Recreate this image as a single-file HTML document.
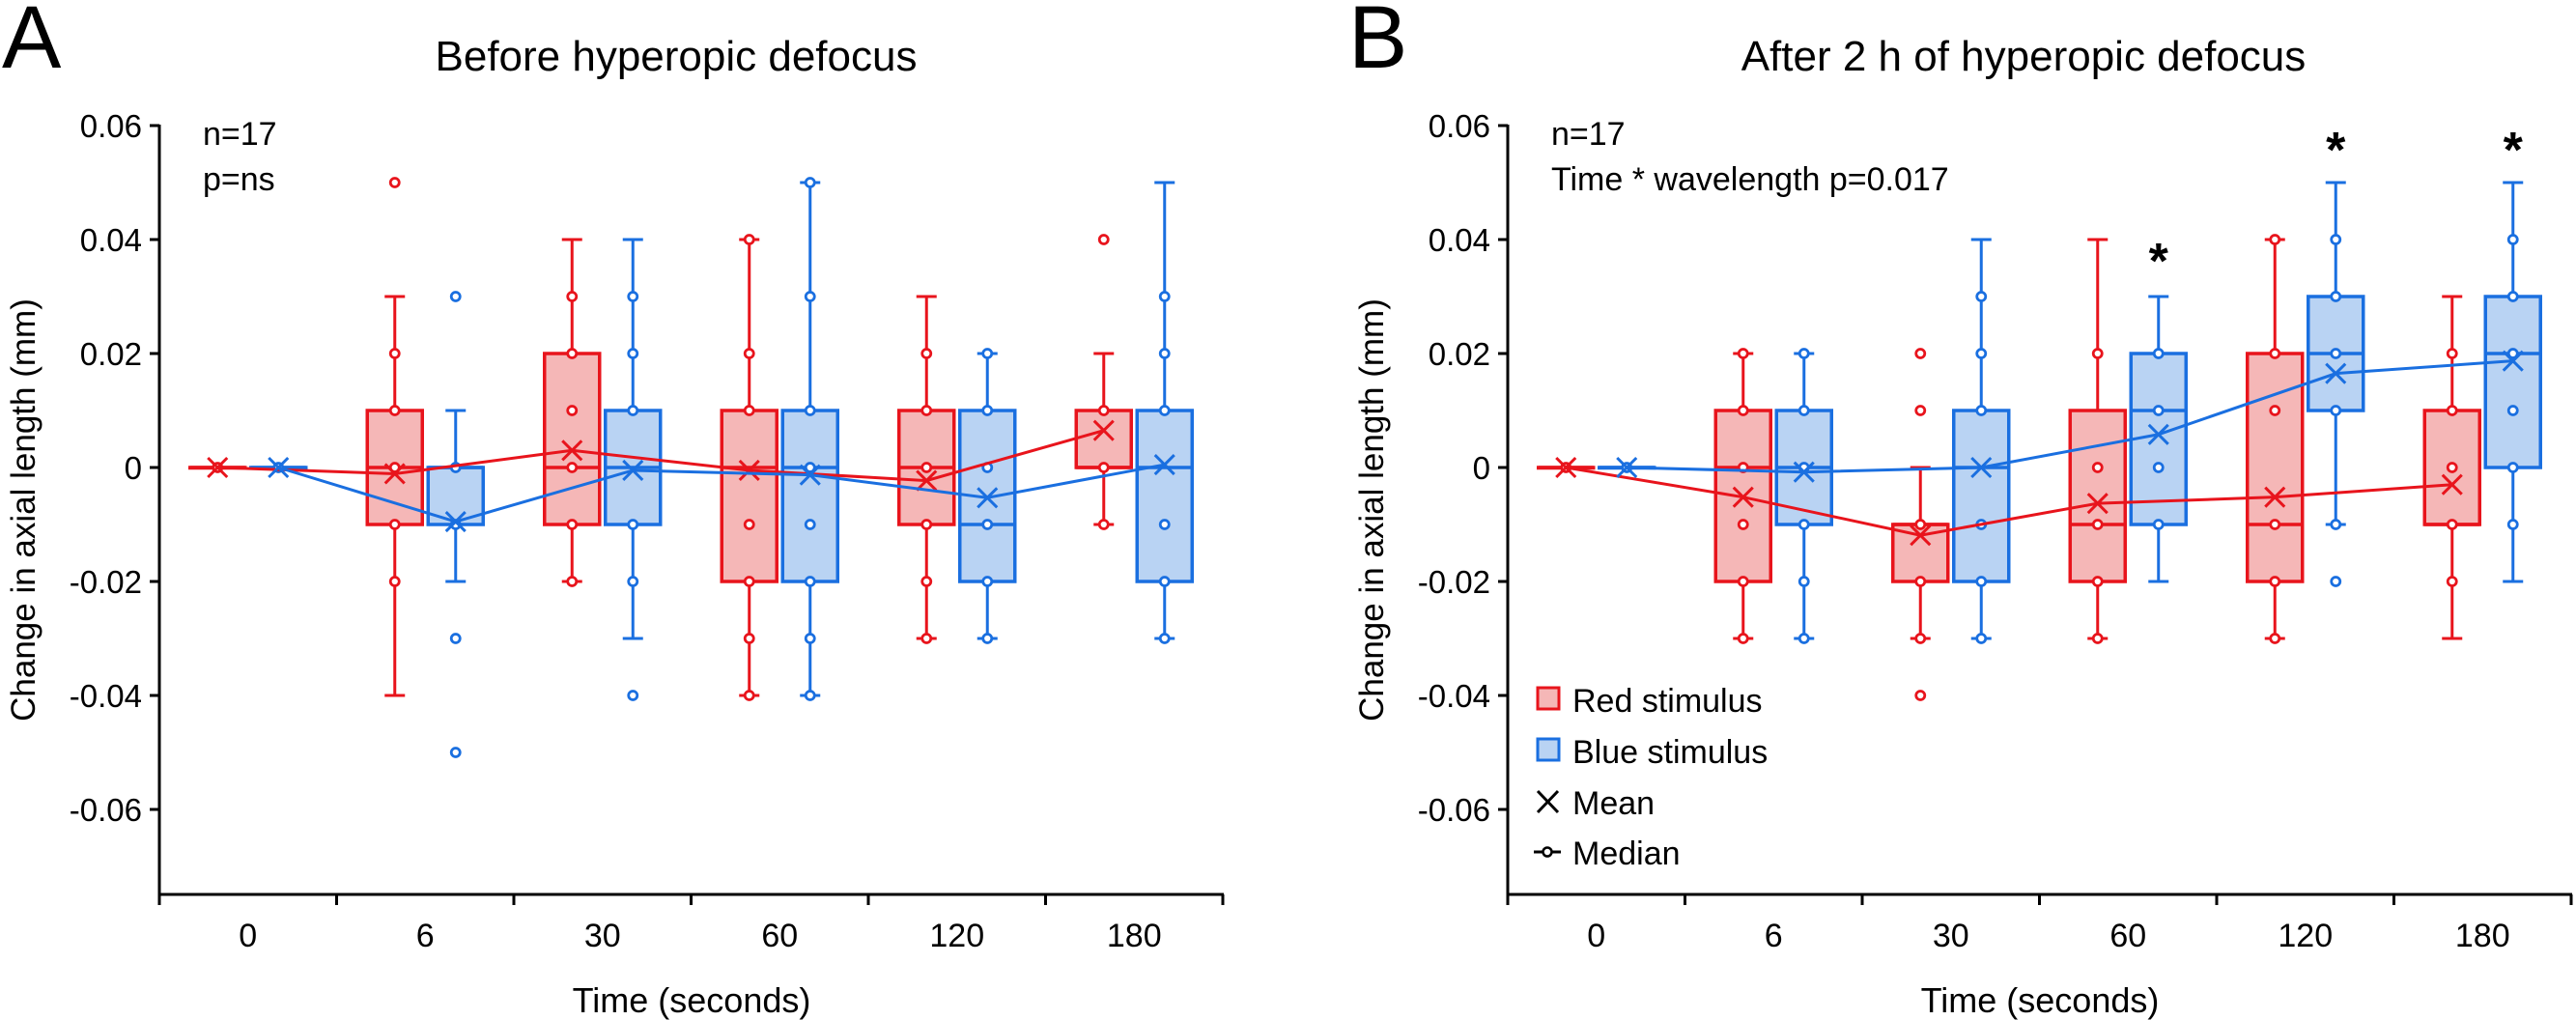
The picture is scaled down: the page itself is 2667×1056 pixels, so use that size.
<!DOCTYPE html>
<html><head><meta charset="utf-8">
<style>
html,body{margin:0;padding:0;background:#fff;}
svg{display:block;font-family:"Liberation Sans",Arial,sans-serif;}
</style></head>
<body>
<svg id="fig" width="2667" height="1056" viewBox="0 0 2667 1056" xmlns="http://www.w3.org/2000/svg">
  <text x="2" y="70" font-size="92">A</text>
  <text x="700" y="73" font-size="44" text-anchor="middle">Before hyperopic defocus</text>
  <text x="1396" y="70" font-size="92">B</text>
  <text x="2095" y="73" font-size="44" text-anchor="middle">After 2 h of hyperopic defocus</text>
  <g id="panelA"></g>
  <g id="panelB"></g>
  <g id="legend">
    <g>
      <rect x="1592" y="712" width="22" height="22" fill="#f5b7b7" stroke="#e8141c" stroke-width="3"/>
      <text x="1628" y="737" font-size="34">Red stimulus</text>
    </g>
    <g>
      <rect x="1592" y="765" width="22" height="22" fill="#b9d3f3" stroke="#1a6fe0" stroke-width="3"/>
      <text x="1628" y="790" font-size="34">Blue stimulus</text>
    </g>
    <g>
      <path d="M1592 819 L1613 841 M1613 819 L1592 841" stroke="#000" stroke-width="3"/>
      <text x="1628" y="843" font-size="34">Mean</text>
    </g>
    <g>
      <line x1="1588" y1="882" x2="1616" y2="882" stroke="#000" stroke-width="3"/>
      <circle cx="1602" cy="882" r="4.5" fill="#fff" stroke="#000" stroke-width="2.5"/>
      <text x="1628" y="895" font-size="34">Median</text>
    </g>
  </g>
</svg>
<script>
// ---- shared ----
const categories = ['0','6','30','60','120','180'];
const yTickValues = [0.06,0.04,0.02,0,-0.02,-0.04,-0.06];
const yTickLabels = ['0.06','0.04','0.02','0','-0.02','-0.04','-0.06'];

// ---- Panel A data ----
const aRedQ1 = [0,-0.01,-0.01,-0.02,-0.01,0];
const aRedMed = [0,0,0,0,0,0];
const aRedQ3 = [0,0.01,0.02,0.01,0.01,0.01];
const aRedLo = [0,-0.04,-0.02,-0.04,-0.03,-0.01];
const aRedHi = [0,0.03,0.04,0.04,0.03,0.02];
const aRedMean = [0,-0.0011,0.003,-0.0005,-0.0023,0.0065];
const aRedPts = [[0],[0.05,0.02,0.01,0,-0.01,-0.02],[0.03,0.02,0.01,0,-0.01,-0.02],[0.04,0.02,0.01,-0.01,-0.02,-0.03,-0.04],[0.02,0.01,0,-0.01,-0.02,-0.03],[0.04,0.01,0,-0.01]];
const aBlueQ1 = [0,-0.01,-0.01,-0.02,-0.02,-0.02];
const aBlueMed = [0,0,0,0,-0.01,0];
const aBlueQ3 = [0,0,0.01,0.01,0.01,0.01];
const aBlueLo = [0,-0.02,-0.03,-0.04,-0.03,-0.03];
const aBlueHi = [0,0.01,0.04,0.05,0.02,0.05];
const aBlueMean = [0,-0.0095,-0.0005,-0.0013,-0.0053,0.0005];
const aBluePts = [[0],[0.03,0,-0.01,-0.03,-0.05],[0.03,0.02,0.01,-0.01,-0.02,-0.04],[0.05,0.03,0.01,0,-0.01,-0.02,-0.03,-0.04],[0.02,0.01,0,-0.01,-0.02,-0.03],[0.03,0.02,0.01,-0.01,-0.02,-0.03]];

// ---- Panel B data ----
const bRedQ1 = [0,-0.02,-0.02,-0.02,-0.02,-0.01];
const bRedMed = [0,0,-0.01,-0.01,-0.01,-0.01];
const bRedQ3 = [0,0.01,-0.01,0.01,0.02,0.01];
const bRedLo = [0,-0.03,-0.03,-0.03,-0.03,-0.03];
const bRedHi = [0,0.02,0,0.04,0.04,0.03];
const bRedMean = [0,-0.0052,-0.0119,-0.0063,-0.0052,-0.003];
const bRedPts = [[0],[0.02,0.01,0,-0.01,-0.02,-0.03],[0.02,0.01,-0.01,-0.02,-0.03,-0.04],[0.02,0,-0.01,-0.02,-0.03],[0.04,0.02,0.01,-0.01,-0.02,-0.03],[0.02,0.01,0,-0.01,-0.02]];
const bBlueQ1 = [0,-0.01,-0.02,-0.01,0.01,0];
const bBlueMed = [0,0,0,0.01,0.02,0.02];
const bBlueQ3 = [0,0.01,0.01,0.02,0.03,0.03];
const bBlueLo = [0,-0.03,-0.03,-0.02,-0.01,-0.02];
const bBlueHi = [0,0.02,0.04,0.03,0.05,0.05];
const bBlueMean = [0,-0.0008,0,0.0058,0.0165,0.0187];
const bBluePts = [[0],[0.02,0.01,0,-0.01,-0.02,-0.03],[0.03,0.02,0.01,-0.01,-0.02,-0.03],[0.02,0.01,0,-0.01],[0.04,0.03,0.02,0.01,-0.01,-0.02],[0.04,0.03,0.02,0.01,0,-0.01]];
const bStarIdx = [3,4,5];
const bStarVal = [0.038,0.0575,0.0575];

const NS = 'http://www.w3.org/2000/svg';
const RED = '#e8141c', REDF = '#f5b7b7', BLUE = '#1a6fe0', BLUEF = '#b9d3f3';
function mk(tag, attrs, parent){ const e=document.createElementNS(NS,tag); for(const k in attrs) e.setAttribute(k,attrs[k]); parent.appendChild(e); return e; }

function drawPanel(g, axisX, prefix, red, blue, note2, yLabelX){
  const Y0 = 484, PER = 5900, CW = 183.5, XAX = 926;
  const y = v => Y0 - v*PER;
  const xc = i => axisX + CW/2 + CW*i;
  // axes
  const ax = mk('g',{},g);
  
  
  mk('line',{x1:axisX,y1:129,x2:axisX,y2:XAX+1,stroke:'#000','stroke-width':3},ax);
  mk('line',{x1:axisX-1,y1:XAX,x2:axisX+CW*6+1,y2:XAX,stroke:'#000','stroke-width':3},ax);
  yTickValues.forEach((v,i)=>{
    mk('line',{x1:axisX-10,y1:y(v),x2:axisX,y2:y(v),stroke:'#000','stroke-width':3},ax);
    const t = mk('text',{x:axisX-18,y:y(v)+12,'font-size':33,'text-anchor':'end'},ax);
    
    
    t.textContent = yTickLabels[i];
  });
  for(let i=0;i<=6;i++) mk('line',{x1:axisX+CW*i,y1:XAX,x2:axisX+CW*i,y2:XAX+11,stroke:'#000','stroke-width':3},ax);
  categories.forEach((c,i)=>{
    const t = mk('text',{x:xc(i),y:980,'font-size':34,'text-anchor':'middle'},ax);
    
    
    t.textContent = c;
  });
  const xt = mk('text',{x:axisX+551,y:1048,'font-size':36,'text-anchor':'middle'},ax);
  
  
  xt.textContent = 'Time (seconds)';
  const yt = mk('text',{x:0,y:0,'font-size':35,'text-anchor':'middle',transform:`translate(${yLabelX},528) rotate(-90)`},ax);
  
  
  yt.textContent = 'Change in axial length (mm)';
  const n1 = mk('text',{x:axisX+45,y:150,'font-size':34},ax);
  
  
  n1.textContent = 'n=17';
  const n2 = mk('text',{x:axisX+45,y:197,'font-size':34},ax);
  
  
  n2.textContent = note2;

  const series = [[red, RED, REDF, -31.5, 'red'],[blue, BLUE, BLUEF, 31.5, 'blue']];
  const W = 57, CAP = 17;
  series.forEach(([s,col,fill,off,nm])=>{
    const sg = mk('g',{},g);
    
    
    categories.forEach((c,i)=>{
      const x = xc(i)+off;
      const bg = mk('g',{},sg);
      
      
      // whiskers
      if(s.hi[i] > s.q3[i]){
        mk('line',{x1:x,y1:y(s.q3[i]),x2:x,y2:y(s.hi[i]),stroke:col,'stroke-width':3},bg);
      }
      if(s.lo[i] < s.q1[i]){
        mk('line',{x1:x,y1:y(s.q1[i]),x2:x,y2:y(s.lo[i]),stroke:col,'stroke-width':3},bg);
      }
      if(s.hi[i] !== s.q3[i] || s.hi[i]!==0) mk('line',{x1:x-CAP/2-2,y1:y(s.hi[i]),x2:x+CAP/2+2,y2:y(s.hi[i]),stroke:col,'stroke-width':3},bg);
      if(s.lo[i] !== s.q1[i] || s.lo[i]!==0) mk('line',{x1:x-CAP/2-2,y1:y(s.lo[i]),x2:x+CAP/2+2,y2:y(s.lo[i]),stroke:col,'stroke-width':3},bg);
      // box
      const top = y(s.q3[i]), bot = y(s.q1[i]);
      mk('rect',{x:x-W/2,y:top,width:W,height:Math.max(bot-top,0.5),fill:fill,stroke:col,'stroke-width':3.5},bg);
      mk('line',{x1:x-W/2,y1:y(s.med[i]),x2:x+W/2,y2:y(s.med[i]),stroke:col,'stroke-width':3.5},bg);
      // points
      s.pts[i].forEach(v=>{
        const p = mk('circle',{cx:x,cy:y(v),r:4.5,fill:'#fff',stroke:col,'stroke-width':2.8},bg);
        
        
      });
    });
  });
  // mean lines + markers
  series.forEach(([s,col,fill,off,nm])=>{
    const pts = s.mean.map((m,i)=>`${xc(i)+off},${y(m)}`).join(' ');
    const pl = mk('polyline',{points:pts,fill:'none',stroke:col,'stroke-width':3},g);
    
    
    s.mean.forEach((m,i)=>{
      const x = xc(i)+off, yy = y(m), d = 10;
      const mm = mk('path',{d:`M${x-d} ${yy-d} L${x+d} ${yy+d} M${x+d} ${yy-d} L${x-d} ${yy+d}`,stroke:col,'stroke-width':3},g);
      
      
    });
  });
  return {xc, y};
}

const A = drawPanel(document.getElementById('panelA'), 165, 'panel-a',
  {q1:aRedQ1,med:aRedMed,q3:aRedQ3,lo:aRedLo,hi:aRedHi,mean:aRedMean,pts:aRedPts},
  {q1:aBlueQ1,med:aBlueMed,q3:aBlueQ3,lo:aBlueLo,hi:aBlueHi,mean:aBlueMean,pts:aBluePts},
  'p=ns', 36);
const B = drawPanel(document.getElementById('panelB'), 1561, 'panel-b',
  {q1:bRedQ1,med:bRedMed,q3:bRedQ3,lo:bRedLo,hi:bRedHi,mean:bRedMean,pts:bRedPts},
  {q1:bBlueQ1,med:bBlueMed,q3:bBlueQ3,lo:bBlueLo,hi:bBlueHi,mean:bBlueMean,pts:bBluePts},
  'Time * wavelength p=0.017', 1432);
const pb = document.getElementById('panelB');
bStarIdx.forEach((idx,k)=>{
  const t = mk('text',{x:B.xc(idx)+31.5,y:B.y(bStarVal[k])+28,'font-size':52,'font-weight':'bold','text-anchor':'middle'},pb);
  
  
  t.textContent = '*';
});
</script>
</body></html>
